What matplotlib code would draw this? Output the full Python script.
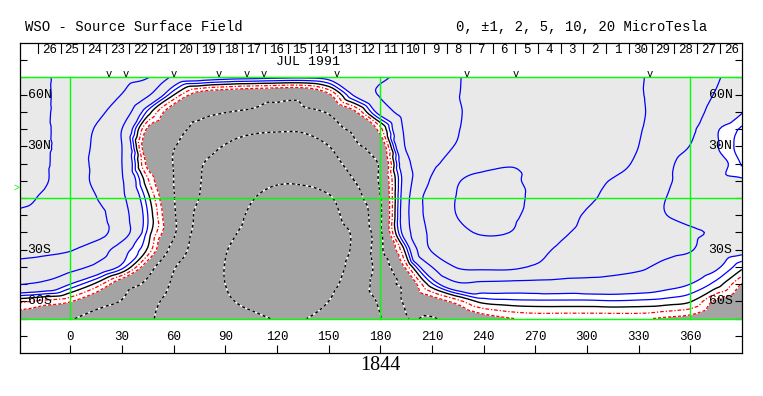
import numpy as np
import matplotlib
matplotlib.use('Agg')
import matplotlib.pyplot as plt
import matplotlib.tri as mtri

plt.rcParams['font.family'] = ['Liberation Mono', 'DejaVu Sans Mono']

# source surface field, microtesla
# columns: longitude -30 .. 390 every 15 deg, rows: latitude 70 .. -70
lon = np.arange(-30, 391, 15)
lat = [70, 60, 50, 40, 30, 20, 10, 0, -10, -20, -30, -40, -50, -60, -70]

b_p70 = [8, 9.5, 11.5, 12, 11.5, 10.2, 4.2, 3.2, 2.7, 2.5, 2.3, 2.2, 2.6, 3.4, 4.5,
         6, 7.8, 9.8, 11, 12, 12.5, 12.5, 12, 11.3, 10.4, 8.3, 6.8, 5.3, 3.6]
b_p60 = [8, 9.5, 11.3, 11, 9.9, 5.5, 0.1, -2.8, -3.5, -3.9, -4.2, -4.2, -2.3, 2.3, 5.3,
         7.3, 8.8, 9.9, 11, 12, 12.6, 12.8, 12.4, 11.6, 10.4, 8.2, 6.6, 4.8, 3]
b_p50 = [8, 9.5, 11.5, 11, 7.3, 0.7, -3.2, -4.2, -4.9, -5.3, -5.5, -5.4, -4.7, -2.3, 2.9,
         6.5, 8.2, 9.7, 11.5, 13, 13.8, 14, 13.5, 12.3, 10.6, 8.3, 6.3, 4, 2.1]
b_p40 = [8, 9.5, 11.2, 9.7, 5, -2.3, -4, -5.8, -7.5, -8.8, -9.3, -9.2, -6.4, -4.2, -1.4,
         5.7, 7.8, 9.8, 12.5, 14.5, 15.3, 15.5, 14.5, 12.5, 10.4, 7.5, 5.7, 2.3, 0.8]
b_p30 = [8, 9.5, 11, 9.4, 5, -3.5, -4.8, -7.6, -10.3, -12.5, -13.5, -13.2, -10.1, -5.6, -3.5,
         5.3, 7.7, 10.5, 13.5, 16, 17, 16.8, 15.3, 12.8, 10, 7.2, 4.9, 2.2, 0.5]
b_p20 = [8.2, 9.6, 11.2, 9.2, 5, -2.5, -5.1, -9.4, -12.5, -15, -16.5, -16.5, -12.5, -7.8, -4.5,
         4, 8.5, 13.5, 18, 19.5, 18.5, 16.5, 14.5, 12, 9.1, 6.1, 3.6, 2.9, 0.9]
b_p10 = [8.5, 9.7, 11.5, 9.2, 5.3, -0.8, -5, -9.7, -14, -17.5, -19.3, -19, -15.5, -10, -4.5,
         3.3, 10.8, 19.4, 22, 21.5, 17.8, 14.5, 11.5, 9.7, 7.5, 5.6, 3.8, 2.5, 2.2]
b_eq = [9.3, 10.3, 11, 10.1, 5.7, 0.4, -4.8, -10.1, -15, -19.5, -22, -23, -21, -12.5, -5.1,
        3.8, 13.2, 20.5, 23.5, 22, 18.5, 14.6, 11, 8.7, 6.6, 5.1, 3.7, 2.9, 2.7]
b_m10 = [10.4, 10.8, 11.2, 11.5, 6.5, 1.0, -4.5, -11.5, -16.3, -21, -24, -25, -23, -15.3, -5.5,
         4.0, 12.8, 20.3, 23, 21.5, 17.5, 12.6, 9.4, 7.3, 6, 5.1, 4, 3.2, 3.0]
b_m20 = [10.8, 11.3, 12, 12, 6.9, 0.7, -4.4, -12.4, -18, -22, -25.5, -26.5, -24.5, -18.5, -5.6,
         3.5, 11.5, 17.5, 21, 20, 15.5, 11, 8.8, 7.5, 6.5, 5.8, 5.4, 4.6, 3.3]
b_m30 = [11.3, 11, 10.3, 7.3, 3.1, -0.2, -6.3, -13.2, -19.5, -24, -27, -27.5, -25, -18.5, -5.9,
         0.6, 10.5, 12.5, 14, 14, 12, 9, 7.8, 7, 6.4, 5.8, 5.2, 3.3, 2.6]
b_m40 = [8.5, 7.5, 6.3, 4.2, 1.5, -3.3, -9.5, -15, -20.2, -25, -27, -27, -24.5, -16.9, -7.5,
         -1.6, 5, 10.4, 11, 11, 9.5, 8, 7, 6.2, 5.5, 4.3, 3.3, 2.3, 0.3]
b_m50 = [5.2, 4.3, 2.0, -0.3, -3.4, -5.8, -10.8, -15.4, -20, -24, -25, -24.5, -22, -16, -6.8,
         -4, 0.8, 4.4, 4.1, 3.9, 3.8, 3.7, 3.7, 3.6, 3.3, 2.7, 2.0, 0.6, -2.1]
b_m60 = [-0.7, -1.3, -1.9, -3.6, -5.2, -8.3, -12, -16, -19, -21.5, -22.5, -22, -20, -14.5, -9.2,
         -4.4, -3, -1.4, 0.4, 0.7, 0.8, 0.8, 0.8, 0.9, 0.8, 0.6, 0.1, -2.3, -3.5]
b_m70 = [-2.8, -3.3, -4.7, -6.5, -7.8, -9.4, -12, -14.5, -16.5, -18.5, -20.3, -20.2, -18, -14.5, -10.2,
         -5.2, -5.2, -4, -2.8, -2.1, -1.8, -1.8, -1.8, -1.8, -1.8, -2.2, -2.6, -3.6, -4.5]

pos_levels = [1, 2, 5, 10, 20]
neg_levels = [-20, -10, -5]

# Carrington rotation 1844, days of July / June 1991 along the top
day_labels = ['26', '25', '24', '23', '22', '21', '20', '19', '18', '17', '16',
              '15', '14', '13', '12', '11', '10', '9', '8', '7', '6', '5', '4',
              '3', '2', '1', '30', '29', '28', '27', '26']
day_start = -18.8
day_step = 13.2

# longitudes of the observations (the little v marks)
obs_lon = [22.6, 32.3, 60.2, 86.5, 102.4, 112.5, 155.0, 230.5, 258.8, 336.6]

lon_ticks = list(range(0, 361, 30))
lat_labels = [(60, '60N'), (30, '30N'), (-30, '30S'), (-60, '60S')]

GREEN = '#00ff00'
BLUE = '#0000ff'
RED = '#ff0000'

fig = plt.figure(figsize=(7.63, 3.96), dpi=100)
ax = fig.add_axes([20 / 763, 43 / 396, 721.7 / 763, 310 / 396])

B = np.array([b_p70, b_p60, b_p50, b_p40, b_p30, b_p20, b_p10, b_eq,
              b_m10, b_m20, b_m30, b_m40, b_m50, b_m60, b_m70])
LON, LAT = np.meshgrid(lon, lat)
tri = mtri.Triangulation(LON.ravel(), LAT.ravel())
interp = mtri.CubicTriInterpolator(tri, B.ravel(), kind='geom')
tri_f, b_f = mtri.UniformTriRefiner(tri).refine_field(B.ravel(), triinterpolator=interp, subdiv=3)

ax.tricontourf(tri_f, b_f, levels=[-100, -2, 2, 100],
               colors=['#a4a4a4', 'white', '#e9e9e9'])
ax.tricontour(tri_f, b_f, levels=pos_levels, colors=BLUE, linewidths=0.9)
ax.tricontour(tri_f, b_f, levels=neg_levels, colors='white', linewidths=1.0)
ax.tricontour(tri_f, b_f, levels=neg_levels, colors='black', linewidths=1.0,
              linestyles=[(0, (2, 2))])
ax.tricontour(tri_f, b_f, levels=[-1], colors=RED, linewidths=0.9,
              linestyles=[(0, (3, 1.5, 1, 1.5))])
ax.tricontour(tri_f, b_f, levels=[-2], colors=RED, linewidths=0.9,
              linestyles=[(0, (2.5, 1.5))])
ax.tricontour(tri_f, b_f, levels=[0], colors='black', linewidths=1.0)

# green reference lines
for y in (70, 0, -70):
    ax.axhline(y, color=GREEN, lw=1)
for x in (0, 180, 360):
    ax.plot([x, x], [-70, 70], color=GREEN, lw=1)

ax.set_xlim(-29.2, 389.9)
ax.set_ylim(-90, 90)
ax.set_xticks(lon_ticks)
ax.set_yticks(range(-80, 81, 10))
ax.tick_params(axis='x', direction='in', length=5.8, width=0.8, labelbottom=False)
ax.tick_params(axis='y', direction='in', length=5, width=0.8, left=True, right=True,
               labelleft=False)
for s in ax.spines.values():
    s.set_linewidth(0.9)

for x in lon_ticks:
    ax.text(x, -81, str(x), ha='center', va='center', fontsize=9)
for y, t in lat_labels:
    ax.text(-24.8, y, t, ha='left', va='center', fontsize=9.5)
    ax.text(384.6, y, t, ha='right', va='center', fontsize=9.5)

# day ticks and labels along the top
for k, d in enumerate(day_labels):
    x0 = day_start + k * day_step
    ax.plot([x0, x0], [84.3, 90], color='black', lw=0.8, clip_on=True)
    xc = x0 + day_step / 2
    if xc < 389:
        ax.text(xc, 85.8, d, ha='center', va='center', fontsize=9)
ax.text(138, 78.8, 'JUL 1991', ha='center', va='center', fontsize=9.5)

for x in obs_lon:
    ax.text(x, 70.4, 'v', ha='center', va='baseline', fontsize=7.5)

ax.text(-31, 5.8, '>', color=GREEN, ha='center', va='center', fontsize=7, clip_on=False)

fig.text(25 / 763, 1 - 27 / 396, 'WSO - Source Surface Field', ha='left', va='center',
         fontsize=10)
fig.text(456 / 763, 1 - 27 / 396, '0, \u00b11, 2, 5, 10, 20 MicroTesla', ha='left',
         va='center', fontsize=10)
fig.text(380 / 763, 1 - 366 / 396, '1844', ha='center', va='center', fontsize=14.5,
         family='Liberation Serif')

fig.savefig('out.png', dpi=100)
